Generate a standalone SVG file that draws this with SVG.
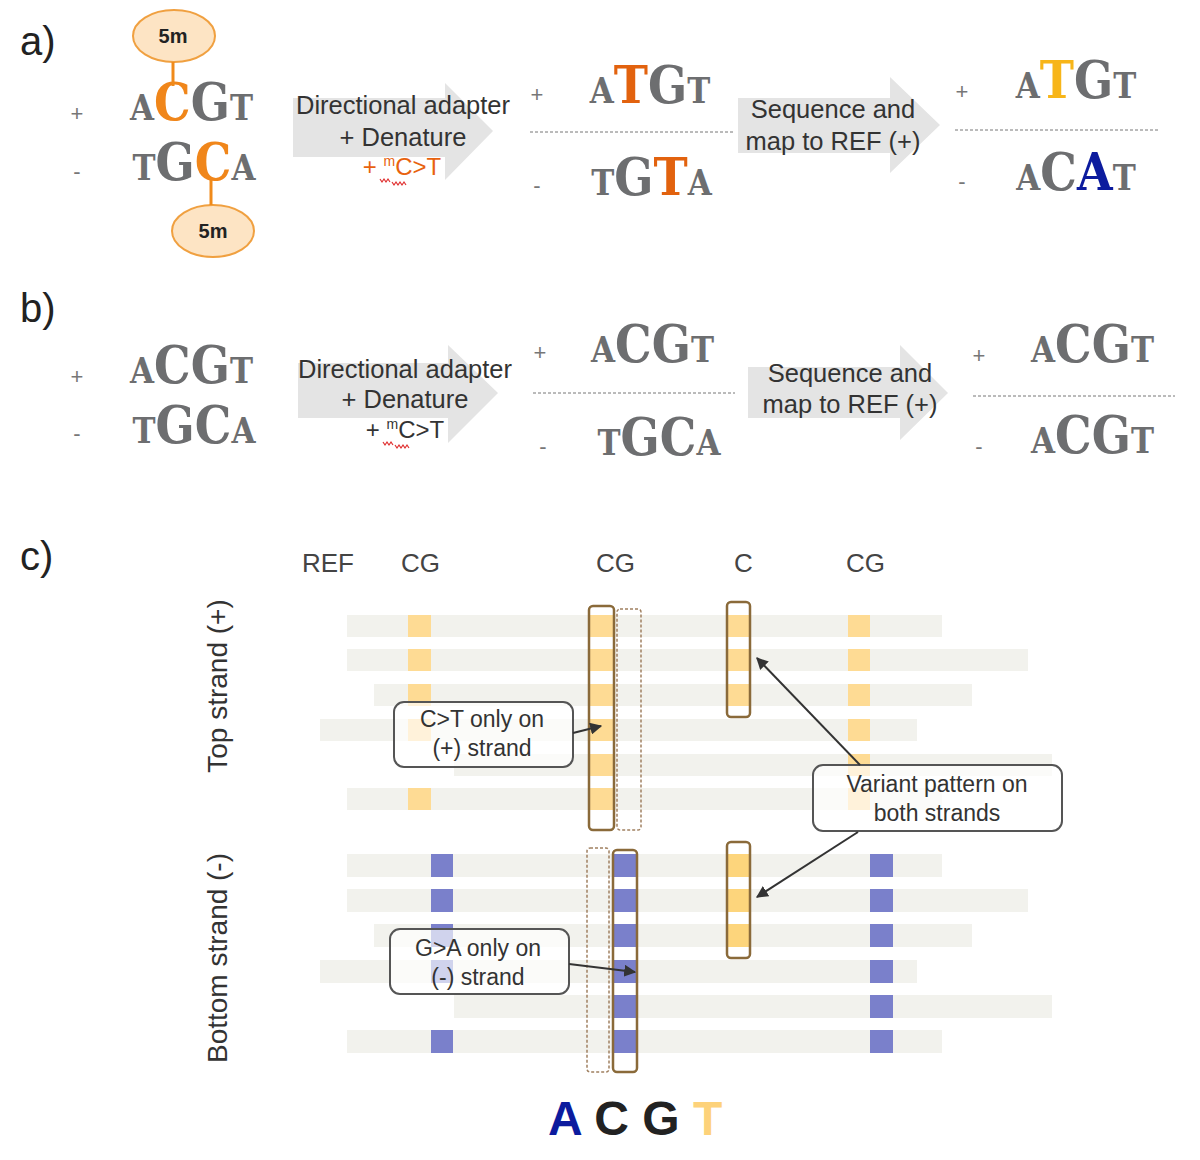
<svg xmlns="http://www.w3.org/2000/svg" width="1200" height="1160" viewBox="0 0 1200 1160">
<defs>
<marker id="ah" viewBox="0 0 10 10" refX="9" refY="5" markerWidth="6" markerHeight="6" orient="auto" markerUnits="strokeWidth">
<path d="M0,0 L10,5 L0,10 Z" fill="#333"/>
</marker>
</defs>
<style>
.lbl{font-family:"Liberation Sans",Arial,sans-serif;font-size:40px;fill:#222}
.sign{font-family:"Liberation Sans",Arial,sans-serif;font-size:22px;fill:#777;text-anchor:middle}
.dna{font-family:"DejaVu Serif",serif;font-weight:bold;fill:#6d6e70;text-anchor:middle}
.L{font-size:46px}
.s{font-size:31px}
.atx{font-family:"Liberation Sans",Arial,sans-serif;font-size:25.5px;fill:#333;text-anchor:middle}
.barrow{fill:#e4e4e4}
.dash{stroke:#777;stroke-width:1;stroke-dasharray:3,2;fill:none}
.ell{fill:#fde4c4;stroke:#f0a040;stroke-width:2}
.fm{font-family:"Liberation Sans",Arial,sans-serif;font-weight:bold;font-size:20px;fill:#222;text-anchor:middle}
.hdr{font-family:"Liberation Sans",Arial,sans-serif;font-size:26px;fill:#444}
.vl{font-family:"Liberation Sans",Arial,sans-serif;font-size:28px;fill:#333;text-anchor:middle}
.bar{fill:#f2f2ed}
.or{fill:#fedb94}
.bl{fill:#7a80cb}
.box{fill:none;stroke:#8a6a3a;stroke-width:2.5}
.dbox{fill:none;stroke:#a08060;stroke-width:1.5;stroke-dasharray:3,2}
.call{fill:#fff;fill-opacity:0.65;stroke:#555;stroke-width:2}
.ctx{font-family:"Liberation Sans",Arial,sans-serif;font-size:23px;fill:#333;text-anchor:middle}
.conn{stroke:#333;stroke-width:2;fill:none}
.squig{stroke:#e03030;stroke-width:1.2;fill:none}
.mct{font-size:24px}
</style>
<rect width="1200" height="1160" fill="#fff"/>

<!-- Panel labels -->
<text class="lbl" x="20" y="55">a)</text>
<text class="lbl" x="20" y="322">b)</text>
<text class="lbl" x="20" y="570">c)</text>

<!-- ========== Panel a ========== -->
<g id="a-ds">
<text class="sign" x="77" y="121">+</text>
<text class="sign" x="77" y="179">-</text>
<text class="dna" transform="translate(191.5,120) scale(1,1.12)"><tspan class="s">A</tspan><tspan class="L" fill="#f0861a">C</tspan><tspan class="L">G</tspan><tspan class="s">T</tspan></text>
<text class="dna" transform="translate(194,180) scale(1,1.12)"><tspan class="s">T</tspan><tspan class="L">G</tspan><tspan class="L" fill="#f0861a">C</tspan><tspan class="s">A</tspan></text>
</g>
<g id="a-5m-top">
<ellipse class="ell" cx="174" cy="36" rx="41" ry="26"/>
<text class="fm" x="173" y="43">5m</text>
</g>
<g id="a-5m-bot">
<ellipse class="ell" cx="213" cy="231" rx="41" ry="26"/>
<text class="fm" x="213" y="238">5m</text>
</g>
<g id="a-arrow1">
<polygon class="barrow" points="293,98 445,98 445,83 493,131 445,180 445,157 293,157"/>
<text class="atx" x="403" y="114">Directional adapter</text>
<text class="atx" x="403" y="146">+ Denature</text>
<text class="atx mct" x="402" y="175" style="fill:#e8620e">+ <tspan style="font-size:14px" dy="-9">m</tspan><tspan dy="9">C&gt;T</tspan></text>
<path class="squig" d="M380,179 l2,3 l2,-3 l2,3 l2,-3 l2,3 M392,182 l2,3 l2,-3 l2,3 l2,-3 l2,3 l2,-3 l2,3"/>
</g>
<g id="a-bisulfite">
<text class="sign" x="537" y="102">+</text>
<text class="sign" x="537" y="193">-</text>
<text class="dna" transform="translate(650,103) scale(1,1.12)"><tspan class="s">A</tspan><tspan class="L" fill="#e2620e">T</tspan><tspan class="L">G</tspan><tspan class="s">T</tspan></text>
<line class="dash" x1="530" y1="132" x2="735" y2="132"/>
<text class="dna" transform="translate(651.5,195) scale(1,1.12)"><tspan class="s">T</tspan><tspan class="L">G</tspan><tspan class="L" fill="#e2620e">T</tspan><tspan class="s">A</tspan></text>
</g>
<g id="a-arrow2">
<polygon class="barrow" points="738,98 890,98 890,77 940,125 890,173 890,153 738,153"/>
<text class="atx" x="833" y="118">Sequence and</text>
<text class="atx" x="833" y="150">map to REF (+)</text>
</g>
<g id="a-mapped">
<text class="sign" x="962" y="99">+</text>
<text class="sign" x="962" y="189">-</text>
<text class="dna" transform="translate(1076,98) scale(1,1.12)"><tspan class="s">A</tspan><tspan class="L" fill="#f7b519">T</tspan><tspan class="L">G</tspan><tspan class="s">T</tspan></text>
<line class="dash" x1="955" y1="130" x2="1158" y2="130"/>
<text class="dna" transform="translate(1076,190) scale(1,1.12)"><tspan class="s">A</tspan><tspan class="L">C</tspan><tspan class="L" fill="#0c1b9e">A</tspan><tspan class="s">T</tspan></text>
</g>

<!-- ========== Panel b ========== -->
<g id="b-ds">
<text class="sign" x="77" y="384">+</text>
<text class="sign" x="77" y="441">-</text>
<text class="dna" transform="translate(191.5,383) scale(1,1.12)"><tspan class="s">A</tspan><tspan class="L">C</tspan><tspan class="L">G</tspan><tspan class="s">T</tspan></text>
<text class="dna" transform="translate(194,443) scale(1,1.12)"><tspan class="s">T</tspan><tspan class="L">G</tspan><tspan class="L">C</tspan><tspan class="s">A</tspan></text>
</g>
<g id="b-arrow1">
<polygon class="barrow" points="298,363 448,363 448,345 498,393 448,443 448,418 298,418"/>
<text class="atx" x="405" y="378">Directional adapter</text>
<text class="atx" x="405" y="408">+ Denature</text>
<text class="atx mct" x="405" y="438">+ <tspan style="font-size:14px" dy="-9">m</tspan><tspan dy="9">C&gt;T</tspan></text>
<path class="squig" d="M383,442 l2,3 l2,-3 l2,3 l2,-3 l2,3 M395,445 l2,3 l2,-3 l2,3 l2,-3 l2,3 l2,-3 l2,3"/>
</g>
<g id="b-bisulfite">
<text class="sign" x="540" y="360">+</text>
<text class="sign" x="543" y="454">-</text>
<text class="dna" transform="translate(652.5,362) scale(1,1.12)"><tspan class="s">A</tspan><tspan class="L">C</tspan><tspan class="L">G</tspan><tspan class="s">T</tspan></text>
<line class="dash" x1="533" y1="393" x2="735" y2="393"/>
<text class="dna" transform="translate(659,455) scale(1,1.12)"><tspan class="s">T</tspan><tspan class="L">G</tspan><tspan class="L">C</tspan><tspan class="s">A</tspan></text>
</g>
<g id="b-arrow2">
<polygon class="barrow" points="748,367 900,367 900,345 948,393 900,440 900,418 748,418"/>
<text class="atx" x="850" y="382">Sequence and</text>
<text class="atx" x="850" y="413">map to REF (+)</text>
</g>
<g id="b-mapped">
<text class="sign" x="979" y="363">+</text>
<text class="sign" x="979" y="454">-</text>
<text class="dna" transform="translate(1092.5,362) scale(1,1.12)"><tspan class="s">A</tspan><tspan class="L">C</tspan><tspan class="L">G</tspan><tspan class="s">T</tspan></text>
<line class="dash" x1="973" y1="396" x2="1175" y2="396"/>
<text class="dna" transform="translate(1092.5,453) scale(1,1.12)"><tspan class="s">A</tspan><tspan class="L">C</tspan><tspan class="L">G</tspan><tspan class="s">T</tspan></text>
</g>

<!-- ========== Panel c ========== -->
<g id="c-headers">
<text class="hdr" x="302" y="572">REF</text>
<text class="hdr" x="401" y="572">CG</text>
<text class="hdr" x="596" y="572">CG</text>
<text class="hdr" x="734" y="572">C</text>
<text class="hdr" x="846" y="572">CG</text>
</g>
<g id="c-side-labels">
<text class="vl" transform="translate(227,686) rotate(-90)">Top strand (+)</text>
<text class="vl" transform="translate(227,958) rotate(-90)">Bottom strand (-)</text>
</g>
<g id="c-top-reads">
<rect class="bar" x="347" y="615" width="595" height="22"/>
<rect class="bar" x="347" y="649" width="681" height="22"/>
<rect class="bar" x="374" y="684" width="598" height="22"/>
<rect class="bar" x="320" y="719" width="597" height="22"/>
<rect class="bar" x="454" y="754" width="598" height="22"/>
<rect class="bar" x="347" y="788" width="595" height="22"/>
<g class="or">
<rect x="408" y="615" width="23" height="22"/><rect x="408" y="649" width="23" height="22"/><rect x="408" y="684" width="23" height="22"/><rect x="408" y="719" width="23" height="22"/><rect x="408" y="788" width="23" height="22"/>
<rect x="590" y="615" width="24" height="22"/><rect x="590" y="649" width="24" height="22"/><rect x="590" y="684" width="24" height="22"/><rect x="590" y="719" width="24" height="22"/><rect x="590" y="754" width="24" height="22"/><rect x="590" y="788" width="24" height="22"/>
<rect x="728" y="615" width="22" height="22"/><rect x="728" y="649" width="22" height="22"/><rect x="728" y="684" width="22" height="22"/>
<rect x="848" y="615" width="22" height="22"/><rect x="848" y="649" width="22" height="22"/><rect x="848" y="684" width="22" height="22"/><rect x="848" y="719" width="22" height="22"/><rect x="848" y="754" width="22" height="22"/><rect x="848" y="788" width="22" height="22"/>
</g>
</g>
<g id="c-bottom-reads">
<rect class="bar" x="347" y="854" width="595" height="23"/>
<rect class="bar" x="347" y="889" width="681" height="23"/>
<rect class="bar" x="374" y="924" width="598" height="23"/>
<rect class="bar" x="320" y="960" width="597" height="23"/>
<rect class="bar" x="454" y="995" width="598" height="23"/>
<rect class="bar" x="347" y="1030" width="595" height="23"/>
<g class="bl">
<rect x="431" y="854" width="22" height="23"/><rect x="431" y="889" width="22" height="23"/><rect x="431" y="924" width="22" height="23"/><rect x="431" y="960" width="22" height="23"/><rect x="431" y="1030" width="22" height="23"/>
<rect x="614" y="854" width="22" height="23"/><rect x="614" y="889" width="22" height="23"/><rect x="614" y="924" width="22" height="23"/><rect x="614" y="960" width="22" height="23"/><rect x="614" y="995" width="22" height="23"/><rect x="614" y="1030" width="22" height="23"/>
<rect x="870" y="854" width="23" height="23"/><rect x="870" y="889" width="23" height="23"/><rect x="870" y="924" width="23" height="23"/><rect x="870" y="960" width="23" height="23"/><rect x="870" y="995" width="23" height="23"/><rect x="870" y="1030" width="23" height="23"/>
</g>
<g fill="#fdd57c">
<rect x="728" y="854" width="22" height="23"/><rect x="728" y="889" width="22" height="23"/><rect x="728" y="924" width="22" height="23"/>
</g>
</g>
<g id="c-column-boxes">
<rect class="box" x="589" y="606" width="25" height="224" rx="4"/>
<rect class="dbox" x="617" y="609" width="24" height="221" rx="3"/>
<rect class="box" x="727" y="602" width="23" height="115" rx="4"/>
<rect class="dbox" x="587" y="848" width="22" height="224" rx="3"/>
<rect class="box" x="613" y="850" width="24" height="222" rx="4"/>
<rect class="box" x="727" y="842" width="23" height="116" rx="4"/>
</g>
<g id="c-callout-ct">
<rect class="call" x="394" y="702" width="179" height="65" rx="10"/>
<text class="ctx" x="482" y="727">C&gt;T only on</text>
<text class="ctx" x="482" y="756">(+) strand</text>
</g>
<g id="c-callout-ga">
<rect class="call" x="390" y="929" width="179" height="65" rx="10"/>
<text class="ctx" x="478" y="956">G&gt;A only on</text>
<text class="ctx" x="478" y="985">(-) strand</text>
</g>
<g id="c-callout-variant">
<rect class="call" x="813" y="765" width="249" height="66" rx="10"/>
<text class="ctx" x="937" y="792">Variant pattern on</text>
<text class="ctx" x="937" y="821">both strands</text>
</g>
<g id="connectors">
<line class="conn" x1="173" y1="62" x2="173" y2="86" style="stroke:#f08a1a;stroke-width:3"/>
<line class="conn" x1="211" y1="180" x2="211" y2="205" style="stroke:#f08a1a;stroke-width:3"/>
<line class="conn" x1="573" y1="733" x2="601" y2="726" marker-end="url(#ah)"/>
<line class="conn" x1="569" y1="964" x2="635" y2="972" marker-end="url(#ah)"/>
<line class="conn" x1="860" y1="765" x2="757" y2="658" marker-end="url(#ah)"/>
<line class="conn" x1="858" y1="832" x2="757" y2="897" marker-end="url(#ah)"/>
</g>
<g id="c-legend">
<text x="548" y="1135" style="font-family:'Liberation Sans',Arial,sans-serif;font-weight:bold;font-size:48px" xml:space="preserve"><tspan fill="#0c1b9e">A</tspan><tspan fill="#222"> C G </tspan><tspan fill="#fdd27a">T</tspan></text>
</g>
</svg>
